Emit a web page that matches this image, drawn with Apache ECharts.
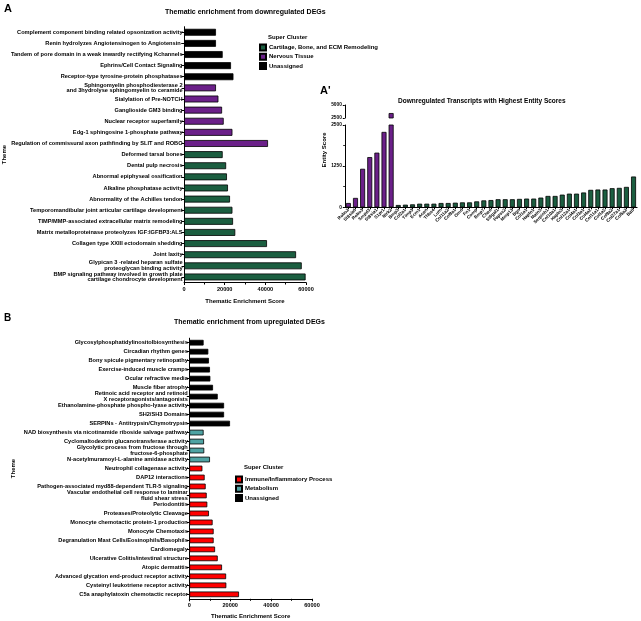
<!DOCTYPE html>
<html><head><meta charset="utf-8">
<script src="https://cdn.jsdelivr.net/npm/echarts@6/dist/echarts.min.js"></script>
<style>html,body{margin:0;padding:0;background:#fff}#c{width:641px;height:621px}</style>
</head><body><div id="c"></div>
<script>
// ---------- Panel A data ----------
const catsA = [
  'Complement component binding related opsonization activity',
  'Renin hydrolyzes Angiotensinogen to Angiotensin-',
  'Tandem of pore domain in a weak inwardly rectifying Kchannels',
  'Ephrins/Cell Contact Signaling',
  'Receptor-type tyrosine-protein phosphatases',
  'Sphingomyelin phosphodiesterase 2\nand 3hydrolyse sphingomyelin to ceramide',
  'Sialylation of Pre-NOTCH',
  'Ganglioside GM3 binding',
  'Nuclear receptor superfamily',
  'Edg-1 sphingosine 1-phosphate pathway',
  'Regulation of commissural axon pathfinding by SLIT and ROBO',
  'Deformed tarsal bones',
  'Dental pulp necrosis',
  'Abnormal epiphyseal ossification',
  'Alkaline phosphatase activity',
  'Abnormality of the Achilles tendon',
  'Temporomandibular joint articular cartilage development',
  'TIMP/MMP-associated extracellular matrix remodeling',
  'Matrix metalloproteinase proteolyzes IGF:IGFBP3:ALS',
  'Collagen type XXIII ectodomain shedding',
  'Joint laxity',
  'Glypican 3 -related heparan sulfate\nproteoglycan binding activity',
  'BMP signaling pathway involved in growth plate\ncartilage chondrocyte development'
];
const valsA = [15700,15700,19000,23100,24300,15700,16900,18700,19500,23800,41300,
  19000,20700,21100,21600,22600,23800,24100,25200,40800,55100,57900,59800];
const clusterA = ['U','U','U','U','U','N','N','N','N','N','N',
  'C','C','C','C','C','C','C','C','C','C','C','C'];
const clusterNamesA = {C:'Cartilage, Bone, and ECM Remodeling', N:'Nervous Tissue', U:'Unassigned'};

// ---------- Panel A' data ----------
const genes = ['Robo2','St8sia6','Robo3','Smpd3','St8sia1','S1pr1','Ntrk2',
  'Bmp3','Col2a1','Timp3','Ecm1','Acan','Thbs4','Lum','Col11a2','Col9a1','Omd','Fn1','Comp','Bmp7',
  'Chad','St6gal1','Papss2','Mmp13','Bgn','Col1a1','Hapln1','Matn3','Serpinh1','Col10a1','Hapln3',
  'Col12a1','Col4a1','Col3a1','Col4a2','Col11a1','Col1a2','Col9a2','Col27a1','Col5a2','Batf'];
const entityScores = [130,285,1170,1525,1660,2290,3450,
  70,80,90,110,110,110,130,130,140,150,150,180,210,
  220,245,245,245,255,265,265,295,345,345,385,
  415,415,450,530,540,540,580,590,620,935];
const geneCluster = ['N','N','N','N','N','N','N',
  'C','C','C','C','C','C','C','C','C','C','C','C','C',
  'C','C','C','C','C','C','C','C','C','C','C',
  'C','C','C','C','C','C','C','C','C','C'];
const breakLow = 2500;

// ---------- Panel B data ----------
const catsB = [
  'Glycosylphosphatidylinositolbiosynthesis',
  'Circadian rhythm genes',
  'Bony spicule pigmentary retinopathy',
  'Exercise-induced muscle cramps',
  'Ocular refractive media',
  'Muscle fiber atrophy',
  'Retinoic acid receptor and retinoid\nX receptoragonists/antagonists',
  'Ethanolamine-phosphate phospho-lyase activity',
  'SH2/SH3 Domains',
  'SERPINs - Antitrypsin/Chymotrypsin',
  'NAD biosynthesis via nicotinamide riboside salvage pathway',
  'Cyclomaltodextrin glucanotransferase activity',
  'Glycolytic process from fructose through\nfructose-6-phosphate',
  'N-acetylmuramoyl-L-alanine amidase activity',
  'Neutrophil collagenase activity',
  'DAP12 interactions',
  'Pathogen-associated myd88-dependent TLR-5 signaling',
  'Vascular endothelial cell response to laminar\nfluid shear stress',
  'Periodontitis',
  'Proteases/Proteolytic Cleavage',
  'Monocyte chemotactic protein-1 production',
  'Monocyte Chemotaxis',
  'Degranulation Mast Cells/Eosinophils/Basophils',
  'Cardiomegaly',
  'Ulcerative Colitis/intestinal structure',
  'Atopic dermatitis',
  'Advanced glycation end-product receptor activity',
  'Cysteinyl leukotriene receptor activity',
  'C5a anaphylatoxin chemotactic receptor'
];
const valsB = [7000,9300,9600,10100,10300,11600,13900,17000,17000,19900,
  7000,7200,7300,10100,
  6400,7500,8000,8500,8800,9600,11400,11900,11900,12600,13900,16000,18000,18100,24300];
const clusterB = ['U','U','U','U','U','U','U','U','U','U',
  'M','M','M','M',
  'I','I','I','I','I','I','I','I','I','I','I','I','I','I','I'];
const clusterNamesB = {I:'Immune/Inflammatory Process', M:'Metabolism', U:'Unassigned'};

const xTicksA = [0,20000,40000,60000];
const yTicksAprime = [0,1250,2500];

// ---------- styles ----------
const FONT = 'Liberation Sans, Arial, sans-serif';
const COL = {C:'#1b5e40', N:'#6b2089', U:'#000000', I:'#ff0000', M:'#4fa3a3'};
const border = {borderColor:'#000', borderWidth:0.8};

function pick(vals, cl, key){ return vals.map((v,i)=> cl[i]===key ? v : '-'); }
const plain = v => String(v);

const chart = echarts.init(document.getElementById('c'), null, {renderer:'canvas'});

const axisLine = {show:true, lineStyle:{color:'#000', width:1}};
const lbl = (fs)=>({color:'#000', fontFamily:FONT, fontWeight:'bold', fontSize:fs});
const tstyle = (fs)=>({fontSize:fs, fontWeight:'bold', color:'#000', fontFamily:FONT});

const series = [];
['U','N','C'].forEach(k=>{
  series.push({type:'bar', name:clusterNamesA[k], xAxisIndex:0, yAxisIndex:0, stack:'a',
    barWidth:'62%', data:pick(valsA, clusterA, k), itemStyle:Object.assign({color:COL[k]}, border)});
});
['N','C'].forEach(k=>{
  series.push({type:'bar', name:"A' "+k, xAxisIndex:1, yAxisIndex:1, stack:'ap',
    barWidth:'70%', data:pick(entityScores, geneCluster, k), itemStyle:Object.assign({color:COL[k]}, border)});
  series.push({type:'bar', name:"A' up "+k, xAxisIndex:2, yAxisIndex:2, stack:'apu',
    barWidth:'70%', data:pick(entityScores.map(v=> v>breakLow ? v : '-'), geneCluster, k),
    itemStyle:Object.assign({color:COL[k]}, border)});
});
['U','M','I'].forEach(k=>{
  series.push({type:'bar', name:clusterNamesB[k], xAxisIndex:3, yAxisIndex:3, stack:'b',
    barWidth:'63%', data:pick(valsB, clusterB, k), itemStyle:Object.assign({color:COL[k]}, border)});
});

const option = {
  backgroundColor:'#fff',
  animation:false,
  textStyle:{fontFamily:FONT},
  title:[
    {text:'A', left:4, top:3, padding:0, textStyle:tstyle(11)},
    {text:'Thematic enrichment from downregulated DEGs', left:165, top:9, padding:0, textStyle:tstyle(7)},
    {text:'Super Cluster', left:268, top:34, padding:0, textStyle:tstyle(6)},
    {text:"A'", left:320, top:85, padding:0, textStyle:tstyle(11)},
    {text:'Downregulated Transcripts with Highest Entity Scores', left:398, top:97.5, padding:0, textStyle:tstyle(6.5)},
    {text:'B', left:4, top:313, padding:0, textStyle:tstyle(10)},
    {text:'Thematic enrichment from upregulated DEGs', left:174, top:319, padding:0, textStyle:tstyle(7)},
    {text:'Super Cluster', left:244, top:464.5, padding:0, textStyle:tstyle(6)}
  ],
  legend:[
    {data:[clusterNamesA.C, clusterNamesA.N, clusterNamesA.U], orient:'vertical', left:259, top:43.5, padding:0,
      itemWidth:6, itemHeight:6, itemGap:1.2, icon:'rect', selectedMode:false,
      textStyle:{fontSize:6, fontWeight:'bold', color:'#000', fontFamily:FONT, padding:[0,0,0,-2]}},
    {data:[clusterNamesB.I, clusterNamesB.M, clusterNamesB.U], orient:'vertical', left:235, top:475.5, padding:0,
      itemWidth:6, itemHeight:6, itemGap:1.2, icon:'rect', selectedMode:false,
      textStyle:{fontSize:6, fontWeight:'bold', color:'#000', fontFamily:FONT, padding:[0,0,0,-2]}}
  ],
  grid:[
    {left:184, top:26.7, width:122, height:255.8},
    {left:344.8, top:125, width:292.3, height:82.3},
    {left:344.8, top:105, width:292.3, height:13},
    {left:189.3, top:338.2, width:122.7, height:260.6}
  ],
  xAxis:[
    {gridIndex:0, type:'value', min:xTicksA[0], max:xTicksA[xTicksA.length-1], interval:20000,
      axisLine, splitLine:{show:false}, axisTick:{show:true, length:2.5, lineStyle:{color:'#000'}},
      minorTick:{show:true, splitNumber:2, length:2, lineStyle:{color:'#000'}},
      axisLabel:Object.assign(lbl(5.6),{margin:4, formatter:plain}),
      name:'Thematic Enrichment Score', nameLocation:'middle', nameGap:16,
      nameTextStyle:lbl(6)},
    {gridIndex:1, type:'category', data:genes, axisLine,
      axisTick:{show:true, length:2, alignWithLabel:true, lineStyle:{color:'#000'}},
      axisLabel:Object.assign(lbl(4.5),{rotate:45, interval:0, margin:2})},
    {gridIndex:2, type:'category', data:genes, show:false},
    {gridIndex:3, type:'value', min:0, max:60000, interval:20000,
      axisLine, splitLine:{show:false}, axisTick:{show:true, length:2.5, lineStyle:{color:'#000'}},
      minorTick:{show:true, splitNumber:2, length:2, lineStyle:{color:'#000'}},
      axisLabel:Object.assign(lbl(5.6),{margin:4, formatter:plain}),
      name:'Thematic Enrichment Score', nameLocation:'middle', nameGap:15,
      nameTextStyle:lbl(6)}
  ],
  yAxis:[
    {gridIndex:0, type:'category', data:catsA, inverse:true, axisLine,
      axisTick:{show:true, length:2.5, alignWithLabel:true, lineStyle:{color:'#000'}},
      axisLabel:Object.assign(lbl(5.65),{margin:1.5, lineHeight:5.8, interval:0}),
      name:'Theme', nameLocation:'middle', nameGap:175, nameTextStyle:lbl(6)},
    {gridIndex:1, type:'value', min:0, max:yTicksAprime[yTicksAprime.length-1], interval:1250,
      axisLine, splitLine:{show:false}, axisTick:{show:true, length:2, lineStyle:{color:'#000'}},
      minorTick:{show:true, splitNumber:2, length:1.5, lineStyle:{color:'#000'}},
      axisLabel:Object.assign(lbl(4.8),{margin:3, formatter:plain})},
    {gridIndex:2, type:'value', min:2500, max:5000, interval:2500,
      axisLine, splitLine:{show:false}, axisTick:{show:true, length:2, lineStyle:{color:'#000'}},
      axisLabel:Object.assign(lbl(4.8),{margin:3, formatter:plain})},
    {gridIndex:3, type:'category', data:catsB, inverse:true, axisLine,
      axisTick:{show:true, length:2.5, alignWithLabel:true, lineStyle:{color:'#000'}},
      axisLabel:Object.assign(lbl(5.65),{margin:1.5, lineHeight:5.8, interval:0}),
      name:'Theme', nameLocation:'middle', nameGap:173, nameTextStyle:lbl(6)}
  ],
  graphic:[
    {type:'text', x:324, y:150, rotation:Math.PI/2,
      style:{text:'Entity Score', fill:'#000', font:'bold 6px '+FONT, textAlign:'center', textVerticalAlign:'middle'}}
  ],
  series
};
chart.setOption(option);
</script>
</body></html>
